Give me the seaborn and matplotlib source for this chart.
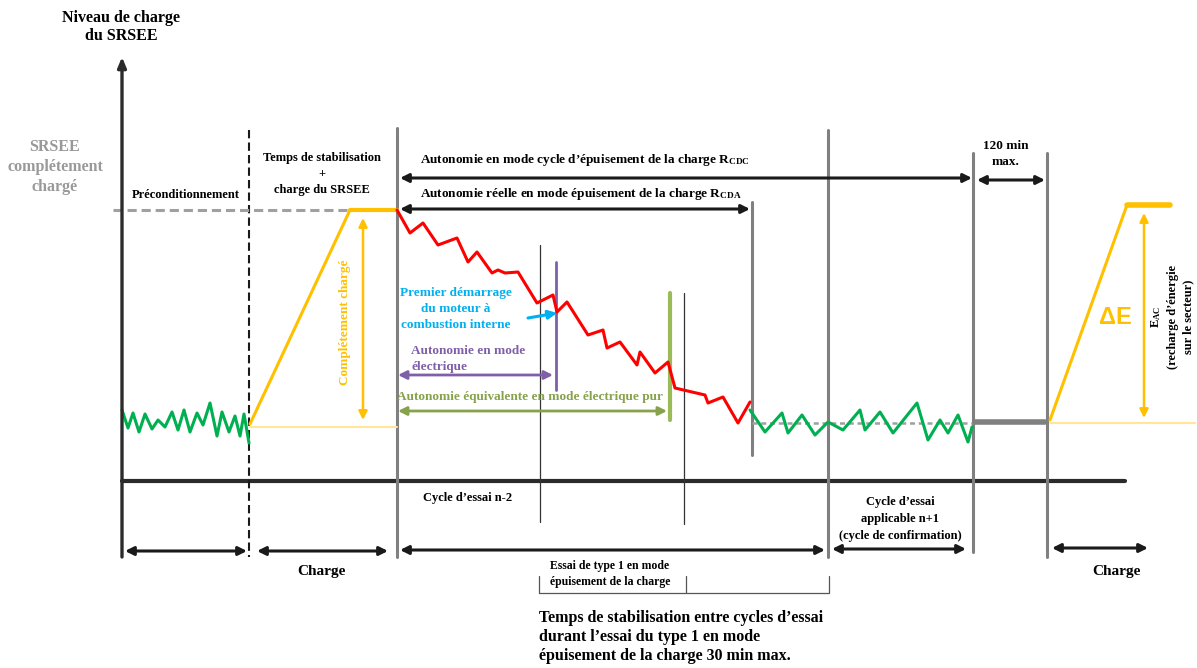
import matplotlib
matplotlib.use("Agg")
import matplotlib.pyplot as plt
import seaborn as sns
import pandas as pd

# State-of-charge traces (pixel coords, y grows downward)
precond_x = [122, 128, 133, 139, 145, 152, 158, 165, 172, 178, 184, 190, 197, 203,
             210, 217, 222, 229, 235, 240, 244, 249]
precond_y = [410, 428, 413, 432, 414, 429, 420, 427, 412, 430, 410, 432, 413, 425,
             403, 436, 412, 432, 416, 436, 414, 443]

charge1_x = [250, 350, 397]
charge1_y = [424, 210, 210]

depletion_x = [397, 410, 423, 438, 457, 468, 477, 492, 498, 505, 518, 537, 553, 557,
               567, 588, 603, 607, 620, 637, 640, 655, 668, 675, 692, 705, 708, 723,
               738, 750]
depletion_y = [210, 233, 223, 245, 238, 262, 252, 273, 270, 273, 272, 303, 295, 312,
               302, 335, 330, 348, 342, 365, 352, 373, 362, 388, 392, 395, 403, 397,
               423, 402]

sustain_x = [750, 765, 782, 788, 802, 815, 828, 843, 860, 865, 880, 893, 917, 928,
             940, 948, 958, 968, 972]
sustain_y = [410, 432, 413, 433, 415, 435, 422, 430, 410, 430, 412, 433, 403, 440,
             420, 433, 415, 442, 427]

charge2_x = [1050, 1127, 1170]
charge2_y = [420, 205, 205]

# vertical phase boundaries: x, top, bottom
gray_bounds = [(397, 128, 557), (828, 130, 557), (973, 153, 552), (1047, 153, 557),
               (752, 202, 455)]
thin_bounds = [(540, 245, 522), (684, 293, 524)]

GREEN = "#00B050"
RED = "#FF0000"
YELLOW = "#FFC000"
PALE_YELLOW = "#FFE699"
GRAY = "#808080"
PURPLE = "#7F5FA8"
OLIVE = "#86A24A"
CYAN = "#00B0F0"


def darrow(ax, x0, x1, y, color="#1a1a1a", lw=2.2):
    ax.annotate("", xy=(x1, y), xytext=(x0, y),
                arrowprops=dict(arrowstyle="<|-|>,head_length=0.5,head_width=0.25",
                                color=color, lw=lw, shrinkA=0, shrinkB=0))


def vdarrow(ax, x, y0, y1, color, lw=1.8):
    ax.annotate("", xy=(x, y1), xytext=(x, y0),
                arrowprops=dict(arrowstyle="<|-|>,head_length=0.5,head_width=0.25",
                                color=color, lw=lw, shrinkA=0, shrinkB=0))


def trace(ax, xs, ys, color, lw=2.2):
    df = pd.DataFrame({"x": xs, "y": ys})
    sns.lineplot(data=df, x="x", y="y", sort=False, color=color, lw=lw, ax=ax)


sns.set_style("white")
plt.rcParams["font.family"] = ["Liberation Serif", "DejaVu Serif"]
plt.rcParams["mathtext.fontset"] = "custom"
plt.rcParams["mathtext.rm"] = "Liberation Serif:bold"
plt.rcParams["mathtext.it"] = "Liberation Serif:bold"
plt.rcParams["mathtext.bf"] = "Liberation Serif:bold"

fig = plt.figure(figsize=(11.97, 6.68), dpi=100)
ax = fig.add_axes([0, 0, 1, 1])
ax.set_xlim(0, 1197)
ax.set_ylim(668, 0)
ax.set_axis_off()

# axes frame: vertical axis with arrow, time line
ax.annotate("", xy=(122, 57), xytext=(122, 557),
            arrowprops=dict(arrowstyle="-|>,head_length=0.6,head_width=0.25",
                            color="#2b2b2b", lw=2.4, shrinkA=0, shrinkB=0))
ax.plot([122, 1125], [481, 481], color="#2b2b2b", lw=3)

# phase boundaries
ax.plot([249, 249], [130, 557], color="#1a1a1a", lw=1.5, ls=(0, (4, 2)))
for x, top, bot in gray_bounds:
    ax.plot([x, x], [top, bot], color=GRAY, lw=2.2)
for x, top, bot in thin_bounds:
    ax.plot([x, x], [top, bot], color="#333333", lw=0.9)
ax.plot([556, 556], [262, 390], color=PURPLE, lw=2)
ax.plot([670, 670], [293, 420], color="#9BBB59", lw=3)

# reference levels
ax.plot([113, 350], [210, 210], color="#A0A0A0", lw=2.2, ls=(0, (3, 1.6)))
ax.plot([250, 397], [427, 427], color=PALE_YELLOW, lw=1.5)
ax.plot([752, 972], [423, 423], color="#A0A0A0", lw=1.8, ls=(0, (2, 1.5)))
ax.plot([975, 1045], [422, 422], color=GRAY, lw=4)
ax.plot([1050, 1195], [423, 423], color=PALE_YELLOW, lw=1.5)

# SOC traces
trace(ax, precond_x, precond_y, GREEN)
trace(ax, charge1_x, charge1_y, YELLOW, lw=2.2)
ax.plot(charge1_x[1:], charge1_y[1:], color=YELLOW, lw=3)
trace(ax, depletion_x, depletion_y, RED)
trace(ax, sustain_x, sustain_y, GREEN)
trace(ax, charge2_x, charge2_y, YELLOW, lw=2.2)
ax.plot(charge2_x[1:], charge2_y[1:], color=YELLOW, lw=4)

# yellow charge extents
vdarrow(ax, 363, 218, 420, YELLOW)
vdarrow(ax, 1144, 213, 418, YELLOW)

# range arrows
darrow(ax, 400, 972, 178)
darrow(ax, 977, 1045, 180)
darrow(ax, 400, 750, 209)
darrow(ax, 398, 553, 375, color=PURPLE, lw=2)
darrow(ax, 398, 667, 411, color=OLIVE, lw=2)
ax.annotate("", xy=(557, 313), xytext=(528, 318),
            arrowprops=dict(arrowstyle="-|>,head_length=0.5,head_width=0.25",
                            color=CYAN, lw=2.2, shrinkA=0, shrinkB=0))

# bottom phase arrows
for x0, x1, y in [(125, 247, 551), (257, 388, 551), (400, 825, 550),
                  (832, 966, 549), (1052, 1148, 548)]:
    darrow(ax, x0, x1, y)

# bracket under the depletion test
ax.plot([539, 539, 829, 829], [576, 593, 593, 576], color="#555555", lw=0.9)
ax.plot([686, 686], [576, 593], color="#555555", lw=0.9)

bold = dict(fontweight="bold", color="black")
ax.text(121, 27, "Niveau de charge\ndu SRSEE", ha="center", va="center",
        fontsize=11.5, linespacing=1.25, **bold)
ax.text(55, 167, "SRSEE\ncomplétement\nchargé", ha="center", va="center",
        fontsize=11.5, linespacing=1.3, fontweight="bold", color="#999999")
ax.text(186, 195, "Préconditionnement", ha="center", va="center", fontsize=9, **bold)
ax.text(322, 174, "Temps de stabilisation\n+\ncharge du SRSEE", ha="center",
        va="center", fontsize=9, linespacing=1.5, **bold)
ax.text(345, 322, "Complétement chargé", ha="center", va="center", rotation=90,
        fontsize=9.5, fontweight="bold", color=YELLOW)
ax.text(420, 160, r"Autonomie en mode cycle d’épuisement de la charge R$_{\mathrm{CDC}}$",
        ha="left", va="center", fontsize=9.5, **bold)
ax.text(1006, 154, "120 min\nmax.", ha="center", va="center", fontsize=9.5,
        linespacing=1.45, **bold)
ax.text(420, 194, r"Autonomie réelle en mode épuisement de la charge R$_{\mathrm{CDA}}$",
        ha="left", va="center", fontsize=9.5, **bold)
ax.text(456, 309, "Premier démarrage\ndu moteur à\ncombustion interne", ha="center",
        va="center", fontsize=9.5, linespacing=1.45, fontweight="bold", color=CYAN)
ax.text(411, 359, "Autonomie en mode\nélectrique", ha="left", va="center",
        fontsize=9.5, linespacing=1.4, fontweight="bold", color=PURPLE)
ax.text(397, 397, "Autonomie équivalente en mode électrique pur", ha="left",
        va="center", fontsize=9.5, fontweight="bold", color=OLIVE)
ax.text(1115, 317, "ΔE", ha="center", va="center", fontsize=17, fontweight="bold",
        family=["Liberation Sans", "DejaVu Sans"], color=YELLOW)
ax.text(1172, 317, "E$_{\\mathrm{AC}}$\n(recharge d’énergie\nsur le secteur)",
        ha="center", va="center", rotation=90, fontsize=9, linespacing=1.4, **bold)
ax.text(468, 498, "Cycle d’essai n-2", ha="center", va="center", fontsize=9, **bold)
ax.text(900, 519, "Cycle d’essai\napplicable n+1\n(cycle de confirmation)",
        ha="center", va="center", fontsize=9, linespacing=1.5, **bold)
ax.text(321, 572, "Charge", ha="center", va="center", fontsize=11, **bold)
ax.text(1116, 572, "Charge", ha="center", va="center", fontsize=11, **bold)
ax.text(610, 574, "Essai de type 1 en mode\népuisement de la charge", ha="center",
        va="center", fontsize=8.5, linespacing=1.55, **bold)
ax.text(539, 637, "Temps de stabilisation entre cycles d’essai\n"
        "durant l’essai du type 1 en mode\n"
        "épuisement de la charge 30 min max.", ha="left", va="center",
        fontsize=11.5, linespacing=1.25, **bold)

fig.savefig("out.png", dpi=100)
